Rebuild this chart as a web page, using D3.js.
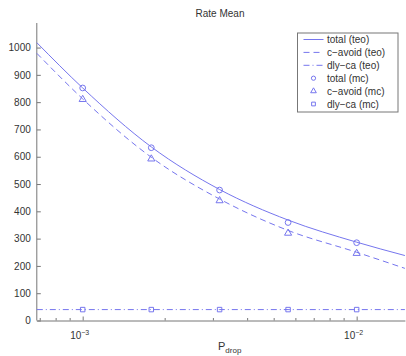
<!DOCTYPE html>
<html lang="en">
<head>
<meta charset="UTF-8">
<title>Rate Mean</title>
<script src="https://cdn.jsdelivr.net/npm/d3@7/dist/d3.min.js"></script>
<style>
  body { margin: 0; background: #fff; }
  text { font-family: "Liberation Sans", Arial, sans-serif; fill: #333; }
  .axis path, .axis line { stroke: #777; }
  .axis text { font-size: 10px; fill: #333; }
  path.curve { fill: none; stroke: #7676ee; stroke-width: 1; }
  .mark { fill: none; stroke: #7676ee; stroke-width: 1; }
</style>
</head>
<body>
<svg id="main" width="406" height="356"></svg>
<script>
// theoretical curves, read at these P_drop values
const teoP = [6.8e-4, 1e-3, 1.78e-3, 3.16e-3, 5.62e-3, 1e-2, 1.5e-2];
const totalTeo = [1018, 852, 636, 480, 368, 287, 238];
const cavoidTeo = [979, 812, 598, 445, 330, 250, 191];
const dlycaTeo = [40, 40, 40, 40, 40, 40, 40];

// monte carlo points
const mcP = [1e-3, 1.78e-3, 3.16e-3, 5.62e-3, 1e-2];
const totalMc = [852, 633, 478, 359, 285];
const cavoidMc = [810, 592, 439, 320, 246];
const dlycaMc = [40, 40, 40, 40, 40];

const yTicks = [0, 100, 200, 300, 400, 500, 600, 700, 800, 900, 1000];
const xMajor = [1e-3, 1e-2];
const xMinor = [7e-4, 8e-4, 9e-4, 2e-3, 3e-3, 4e-3, 5e-3, 6e-3, 7e-3, 8e-3, 9e-3];

const legendLabels = ['total (teo)', 'c\u2212avoid (teo)', 'dly\u2212ca (teo)',
                      'total (mc)', 'c\u2212avoid (mc)', 'dly\u2212ca (mc)'];

let svg = d3.select('svg#main');

let x = d3.scaleLog().domain([6.8e-4, 1.5e-2]).range([36.8, 404.9]);
let y = d3.scaleLinear().domain([0, 1090]).range([320.5, 23]);

// axes
let xAxis = svg.append('g').attr('class', 'axis')
  .attr('transform', 'translate(0,' + y(0) + ')')
  .call(d3.axisBottom(x).tickValues(xMajor).tickSizeInner(-4).tickSizeOuter(0).tickFormat(''));
xAxis.selectAll('.minor').data(xMinor).enter().append('line')
  .attr('x1', d => x(d)).attr('x2', d => x(d))
  .attr('y1', 0).attr('y2', -2.5).attr('stroke', '#777');
let xl = xAxis.selectAll('.xl').data(xMajor).enter().append('text')
  .attr('x', d => x(d) - 3).attr('y', 18)
  .attr('text-anchor', 'middle').style('font-size', '10px');
xl.append('tspan').text('10');
xl.append('tspan').attr('dy', -4).style('font-size', '7px').text(d => '\u2212' + (-Math.round(Math.log10(d))));

let yAxis = svg.append('g').attr('class', 'axis')
  .attr('transform', 'translate(' + x(6.8e-4) + ',0)')
  .call(d3.axisLeft(y).tickValues(yTicks).tickFormat(d3.format('d'))
    .tickSizeInner(-4).tickSizeOuter(0).tickPadding(6));
yAxis.select('.domain').attr('d', 'M0,' + y(0) + 'V' + y(1090));

// curves
function lineOf(ys) {
  return d3.line().x((d, i) => x(teoP[i])).y(d => y(d)).curve(d3.curveMonotoneX)(ys);
}
let fig = svg.append('g');
fig.append('path').attr('class', 'curve').attr('d', lineOf(totalTeo));
fig.append('path').attr('class', 'curve').attr('d', lineOf(cavoidTeo)).attr('stroke-dasharray', '6,4');
fig.append('path').attr('class', 'curve').attr('d', lineOf(dlycaTeo)).attr('stroke-dasharray', '6,3,1,3');

// markers
const sym = {
  circle: d3.symbol().type(d3.symbolCircle).size(26),
  triangle: d3.symbol().type(d3.symbolTriangle).size(22),
  square: d3.symbol().type(d3.symbolSquare).size(20)
};
function marks(vals, s) {
  fig.selectAll(null).data(vals).enter().append('path').attr('class', 'mark')
    .attr('transform', (d, i) => 'translate(' + x(mcP[i]) + ',' + y(d) + ')')
    .attr('d', sym[s]());
}
marks(totalMc, 'circle');
marks(cavoidMc, 'triangle');
marks(dlycaMc, 'square');

// title and x label
svg.append('text').attr('x', 220).attr('y', 17).attr('text-anchor', 'middle')
  .style('font-size', '10px').text('Rate Mean');
let xlab = svg.append('text').attr('x', 218).attr('y', 350).style('font-size', '11px');
xlab.append('tspan').text('P');
xlab.append('tspan').attr('dy', 3).style('font-size', '8px').text('drop');

// legend
let lg = svg.append('g').attr('transform', 'translate(297.5,33)');
lg.append('rect').attr('width', 100.5).attr('height', 79)
  .attr('fill', '#fff').attr('stroke', '#777');
const dashes = [null, '6,4', '6,3,1,3'];
const legSym = ['circle', 'triangle', 'square'];
legendLabels.forEach(function (lab, i) {
  let gy = 6.5 + i * 12.9;
  if (i < 3) {
    lg.append('line').attr('class', 'mark').attr('x1', 6).attr('x2', 26)
      .attr('y1', gy).attr('y2', gy).attr('stroke-dasharray', dashes[i]);
  } else {
    lg.append('path').attr('class', 'mark')
      .attr('transform', 'translate(16,' + gy + ')').attr('d', sym[legSym[i - 3]].size(14)());
  }
  lg.append('text').attr('x', 29.5).attr('y', gy + 3.5).style('font-size', '10px').text(lab);
});
</script>
</body>
</html>
